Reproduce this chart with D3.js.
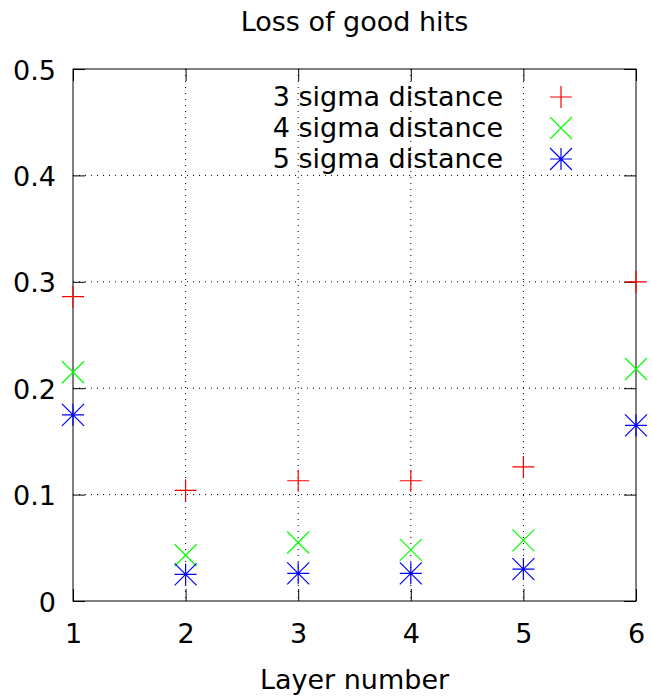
<!DOCTYPE html>
<html>
<head>
<meta charset="utf-8">
<title>Loss of good hits</title>
<script src="https://cdn.jsdelivr.net/npm/d3@7/dist/d3.min.js"></script>
<style>
    body { margin: 0; background: #fff; }
    svg { display: block; font-family: "DejaVu Sans", sans-serif; }
</style>
</head>
<body>
<div id="chart"></div>
<script>
    // data
    var layers = [1, 2, 3, 4, 5, 6];
    var sigma3 = [0.286, 0.104, 0.113, 0.113, 0.126, 0.300];
    var sigma4 = [0.215, 0.043, 0.055, 0.048, 0.057, 0.218];
    var sigma5 = [0.175, 0.025, 0.026, 0.026, 0.030, 0.165];
    var seriesNames = ["3 sigma distance", "4 sigma distance", "5 sigma distance"];
    var yTicks = [0, 0.1, 0.2, 0.3, 0.4, 0.5];

    var width = 652, height = 698;
    var margin = {top: 69, right: 16, bottom: 97, left: 73};
    var plotW = width - margin.left - margin.right;
    var plotH = height - margin.top - margin.bottom;
    var tickLen = 12;
    var pt = 11; // half size of point symbols
    var fontSize = '27px';

    var svg = d3.select('#chart').append('svg')
        .attr('width', width)
        .attr('height', height);

    var x = d3.scaleLinear().domain([1, 6]).range([0, plotW]);
    var y = d3.scaleLinear().domain([0, 0.5]).range([plotH, 0]);

    var g = svg.append('g')
        .attr('transform', `translate(${margin.left},${margin.top})`);

    // dotted grid
    g.selectAll('.gx')
        .data(layers.slice(1, -1))
        .enter().append('line')
            .attr('x1', d => x(d)).attr('x2', d => x(d))
            .attr('y1', 0).attr('y2', plotH)
            .style('stroke', '#000')
            .style('stroke-width', 1)
            .style('stroke-dasharray', '1,5');
    g.selectAll('.gy')
        .data(yTicks.slice(1, -1))
        .enter().append('line')
            .attr('x1', 0).attr('x2', plotW)
            .attr('y1', d => y(d)).attr('y2', d => y(d))
            .style('stroke', '#000')
            .style('stroke-width', 1)
            .style('stroke-dasharray', '1,5');

    // inward ticks on all four sides (gnuplot mirror)
    var axB = d3.axisBottom(x).tickValues(layers).tickSizeInner(-tickLen).tickSizeOuter(0).tickFormat(d3.format('d'));
    var axT = d3.axisTop(x).tickValues(layers).tickSizeInner(-tickLen).tickSizeOuter(0).tickFormat('');
    var axL = d3.axisLeft(y).tickValues(yTicks).tickSizeInner(-tickLen).tickSizeOuter(0).tickFormat(d => d === 0 ? '0' : d3.format('.1f')(d));
    var axR = d3.axisRight(y).tickValues(yTicks).tickSizeInner(-tickLen).tickSizeOuter(0).tickFormat('');

    var axisBottomG = g.append('g').attr('transform', `translate(0,${plotH})`).call(axB);
    var axisTopG = g.append('g').call(axT);
    var axisLeftG = g.append('g').call(axL);
    var axisRightG = g.append('g').attr('transform', `translate(${plotW},0)`).call(axR);

    [axisBottomG, axisTopG, axisLeftG, axisRightG].forEach(a => {
        a.attr('font-family', null).attr('font-size', null);
        a.select('.domain').remove();
        a.selectAll('.tick line').style('stroke', '#000');
        a.selectAll('text').style('font-size', fontSize).style('fill', '#000');
    });
    axisBottomG.selectAll('text').attr('y', 23).attr('dy', '0.71em');
    axisLeftG.selectAll('text').attr('x', -17).attr('dy', '0.37em');

    // border
    g.append('rect')
        .attr('width', plotW).attr('height', plotH)
        .style('fill', 'none')
        .style('stroke', '#000')
        .style('stroke-width', 1);

    // point symbols
    var plus = s => `M${-s},0H${s}M0,${-s}V${s}`;
    var cross = s => `M${-s},${-s}L${s},${s}M${-s},${s}L${s},${-s}`;
    var star = s => plus(s) + cross(s);

    var series = [
        {name: seriesNames[0], values: sigma3, color: '#ff0000', shape: plus},
        {name: seriesNames[1], values: sigma4, color: '#00ff00', shape: cross},
        {name: seriesNames[2], values: sigma5, color: '#0000ff', shape: star}
    ];

    series.forEach(s => {
        g.selectAll(null)
            .data(layers.map((l, i) => ({l: l, v: s.values[i]})))
            .enter().append('path')
                .attr('transform', d => `translate(${x(d.l)},${y(d.v)})`)
                .attr('d', s.shape(pt))
                .style('fill', 'none')
                .style('stroke', s.color)
                .style('stroke-width', 1.2);
    });

    // legend
    var legend = svg.append('g').attr('transform', 'translate(0,97)');
    var rows = legend.selectAll('g')
        .data(series)
        .enter().append('g')
            .attr('transform', (d, i) => `translate(0,${i * 31})`);
    rows.append('text')
        .attr('x', 503)
        .attr('dy', '0.35em')
        .style('text-anchor', 'end')
        .style('font-size', fontSize)
        .text(d => d.name);
    rows.append('path')
        .attr('transform', 'translate(561,0)')
        .attr('d', d => d.shape(pt))
        .style('fill', 'none')
        .style('stroke', d => d.color)
        .style('stroke-width', 1.2);

    // titles
    svg.append('text')
        .attr('x', margin.left + plotW / 2)
        .attr('y', 31)
        .style('text-anchor', 'middle')
        .style('font-size', fontSize)
        .text('Loss of good hits');
    svg.append('text')
        .attr('x', margin.left + plotW / 2)
        .attr('y', 689)
        .style('text-anchor', 'middle')
        .style('font-size', fontSize)
        .text('Layer number');
</script>
</body>
</html>
